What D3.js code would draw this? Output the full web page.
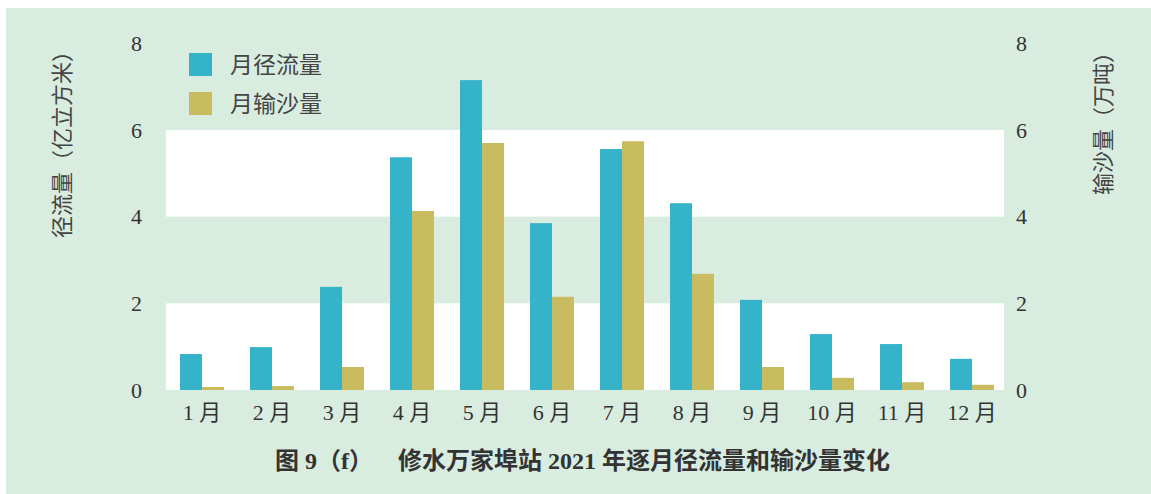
<!DOCTYPE html>
<html><head><meta charset="utf-8">
<script src="https://cdn.jsdelivr.net/npm/d3@7"></script>
<style>body{margin:0;background:#fff;} svg{display:block;}</style>
</head><body>
<script>
const months = ["1 月","2 月","3 月","4 月","5 月","6 月","7 月","8 月","9 月","10 月","11 月","12 月"];
const runoff = [0.83,0.99,2.38,5.37,7.15,3.85,5.56,4.31,2.08,1.29,1.06,0.72];
const sediment = [0.07,0.09,0.53,4.13,5.70,2.15,5.74,2.68,0.53,0.28,0.18,0.12];
const yTicks = [0,2,4,6,8];
const seriesNames = ["月径流量","月输沙量"];
const colors = ["#35b3c9","#c9bb5f"];

const W=1151,H=494;
const svg=d3.select("body").append("svg").attr("width",W).attr("height",H);
const serif="'Liberation Serif','Noto Sans CJK SC',serif";
svg.append("rect").attr("x",6).attr("y",8).attr("width",W-6).attr("height",H-8).attr("fill","#d8ece0");

const x=d3.scaleBand().domain(months).range([167,1007]).paddingInner(26/70).paddingOuter(0.1857);
const xs=d3.scaleBand().domain([0,1]).range([0,x.bandwidth()]);
const y=d3.scaleLinear().domain([0,8]).range([390,43.3]);
const y2=d3.scaleLinear().domain([0,8]).range([390,43.3]);

// white bands
[[0,2],[4,6]].forEach(b=>{
  svg.append("rect").attr("x",166).attr("width",1004-166)
    .attr("y",y(b[1])).attr("height",y(b[0])-y(b[1])).attr("fill","#fff");
});

const g=svg.append("g");
months.forEach((m,i)=>{
  [runoff[i],sediment[i]].forEach((v,k)=>{
    const sc=k===0?y:y2;
    g.append("rect").attr("x",x(m)+xs(k)).attr("width",xs.bandwidth())
      .attr("y",sc(v)).attr("height",sc(0)-sc(v)).attr("fill",colors[k]);
  });
});

// axes
const la=svg.append("g").attr("transform","translate(142,0)")
  .call(d3.axisLeft(y).tickValues(yTicks).tickSize(0).tickPadding(0).tickFormat(d3.format("d")));
la.select(".domain").remove();
la.selectAll("text").attr("x",0).attr("text-anchor","end").attr("dx",0).attr("font-family",serif).attr("font-size",22).attr("fill","#333");

const ra=svg.append("g").attr("transform","translate(1016,0)")
  .call(d3.axisRight(y2).tickValues(yTicks).tickSize(0).tickPadding(0).tickFormat(d3.format("d")));
ra.select(".domain").remove();
ra.selectAll("text").attr("x",0).attr("font-family",serif).attr("font-size",22).attr("fill","#333");

const ba=svg.append("g").attr("transform","translate(0,404)")
  .call(d3.axisBottom(x).tickSize(0).tickPadding(0));
ba.select(".domain").remove();
ba.selectAll("text").attr("dy","0.71em").attr("font-family",serif).attr("font-size",22).attr("fill","#333");

// axis titles
svg.append("text").attr("transform","translate(70,139) rotate(-90)").attr("text-anchor","middle")
  .attr("font-family",serif).attr("font-size",22).attr("fill","#444").text("径流量（亿立方米）");
svg.append("text").attr("transform","translate(1111,118) rotate(-90)").attr("text-anchor","middle")
  .attr("font-family",serif).attr("font-size",22).attr("fill","#444").text("输沙量（万吨）");

// legend
seriesNames.forEach((n,i)=>{
  svg.append("rect").attr("x",189).attr("y",53+i*39).attr("width",23).attr("height",23).attr("fill",colors[i]);
  svg.append("text").attr("x",230).attr("y",64.5+i*39).attr("dy","0.35em")
    .attr("font-family",serif).attr("font-size",23).attr("fill","#444").text(n);
});

// caption
const cap=svg.append("text").attr("y",461).attr("dy","0.35em")
  .attr("font-family",serif).attr("font-size",24).attr("font-weight","bold").attr("fill","#333");
cap.append("tspan").attr("x",275).text("图 9（f）");
cap.append("tspan").attr("x",398).text("修水万家埠站 2021 年逐月径流量和输沙量变化");
</script>
</body></html>
